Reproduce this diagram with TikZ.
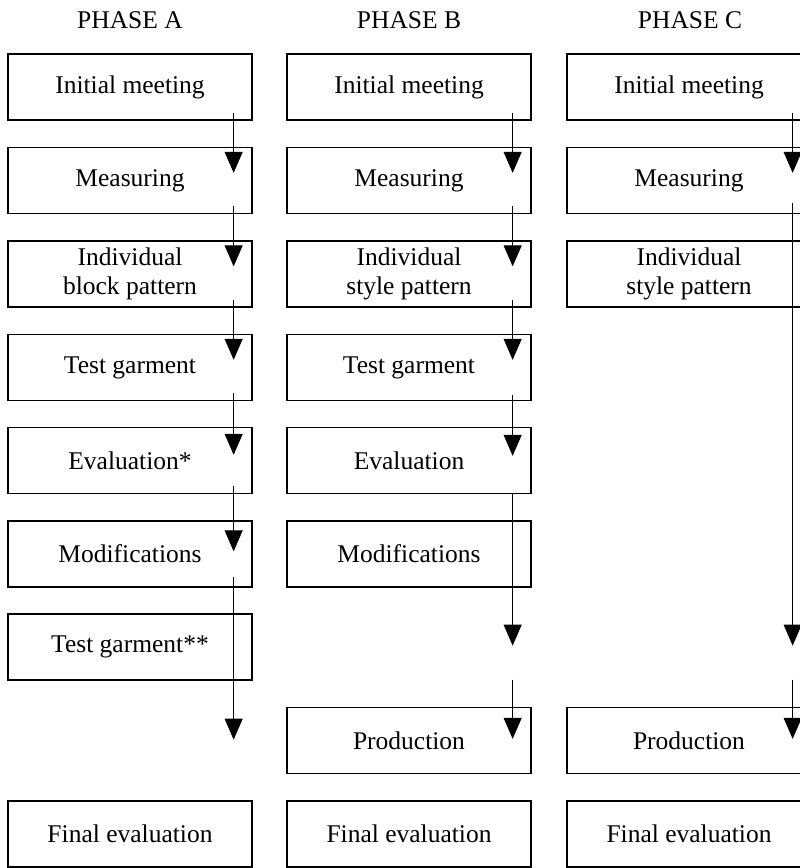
\documentclass[tikz,border=0pt]{standalone}
\usepackage{fontspec}
\setmainfont{Liberation Serif}
\usetikzlibrary{arrows.meta}

\begin{document}
\begin{tikzpicture}[x=1pt, y=-1pt,
  box/.style={draw, line width=1.3pt, minimum width=244pt, minimum height=66pt,
    inner sep=0pt, align=center, font=\fontsize{25.5}{29.5}\selectfont},
  phase/.style={font=\fontsize{25.5}{29.5}\selectfont},
  flow/.style={line width=1pt, -{Triangle[length=21pt, width=18pt]}}]

\clip (0,0) rectangle (800,868);

% Headings
\node[phase] (hA) at (130,20) {PHASE A};
\node[phase] (hB) at (409,20) {PHASE B};
\node[phase] (hC) at (690,20) {PHASE C};

% Phase A
\node[box] (a1) at (130,87) {Initial meeting};
\node[box] (a2) at (130,180.5) {Measuring};
\node[box] (a3) at (130,274) {Individual\\block pattern};
\node[box] (a4) at (130,367.5) {Test garment};
\node[box] (a5) at (130,460.5) {Evaluation*};
\node[box] (a6) at (130,554) {Modifications};
\node[box] (a7) at (130,647) {Test garment**};
\node[box] (a9) at (130,834) {Final evaluation};
\coordinate (a8) at ([shift={(-19,152)}]a6.south east);

% Phase B
\node[box] (b1) at (409,87) {Initial meeting};
\node[box] (b2) at (409,180.5) {Measuring};
\node[box] (b3) at (409,274) {Individual\\style pattern};
\node[box] (b4) at (409,367.5) {Test garment};
\node[box] (b5) at (409,460.5) {Evaluation};
\node[box] (b6) at (409,554) {Modifications};
\node[box] (b8) at (409,740.5) {Production};
\node[box] (b9) at (409,834) {Final evaluation};
\coordinate (b7) at ([shift={(-19,151.5)}]b5.south east);
\coordinate (b7s) at ([shift={(-19,185.5)}]b5.south east);

% Phase C
\node[box] (c1) at (689,87) {Initial meeting};
\node[box] (c2) at (689,180.5) {Measuring};
\node[box] (c3) at (689,274) {Individual\\style pattern};
\node[box] (c8) at (689,740.5) {Production};
\node[box] (c9) at (689,834) {Final evaluation};
\coordinate (c7) at ([shift={(-19,431.5)}]c2.south east);
\coordinate (c7s) at ([shift={(-19,465.5)}]c2.south east);

% Arrows A
\draw[flow] ([shift={(-19,-8)}]a1.south east) -- ([shift={(-19,26)}]a2.north east);
\draw[flow] ([shift={(-19,-8)}]a2.south east) -- ([shift={(-19,26)}]a3.north east);
\draw[flow] ([shift={(-19,-8)}]a3.south east) -- ([shift={(-19,26)}]a4.north east);
\draw[flow] ([shift={(-19,-8)}]a4.south east) -- ([shift={(-19,28)}]a5.north east);
\draw[flow] ([shift={(-19,-8)}]a5.south east) -- ([shift={(-19,31)}]a6.north east);
\draw[flow] ([shift={(-19,-11)}]a6.south east) -- (a8);

% Arrows B
\draw[flow] ([shift={(-19,-8)}]b1.south east) -- ([shift={(-19,26)}]b2.north east);
\draw[flow] ([shift={(-19,-8)}]b2.south east) -- ([shift={(-19,26)}]b3.north east);
\draw[flow] ([shift={(-19,-8)}]b3.south east) -- ([shift={(-19,26)}]b4.north east);
\draw[flow] ([shift={(-19,-6)}]b4.south east) -- ([shift={(-19,29)}]b5.north east);
\draw[flow] ([shift={(-19,-1)}]b5.south east) -- (b7);
\draw[flow] (b7s) -- ([shift={(-19,32)}]b8.north east);

% Arrows C
\draw[flow] ([shift={(-19,-8)}]c1.south east) -- ([shift={(-19,26)}]c2.north east);
\draw[flow] ([shift={(-19,-11)}]c2.south east) -- (c7);
\draw[flow] (c7s) -- ([shift={(-19,32)}]c8.north east);

\end{tikzpicture}
\end{document}
